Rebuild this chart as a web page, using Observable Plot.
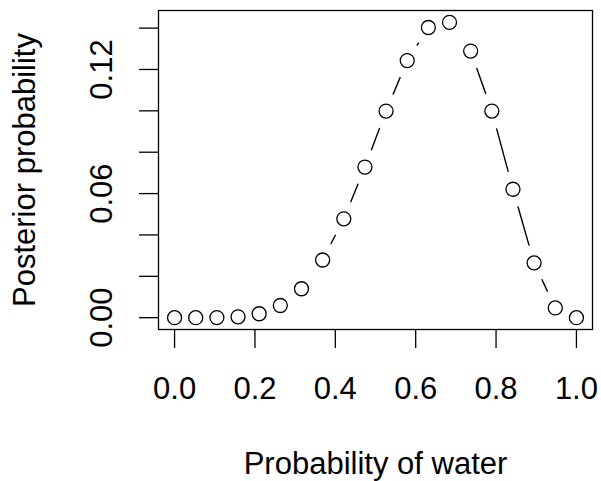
<!DOCTYPE html>
<html>
<head>
<meta charset="utf-8">
<script src="https://cdn.jsdelivr.net/npm/d3@7"></script>
<script src="https://cdn.jsdelivr.net/npm/@observablehq/plot@0.6"></script>
<style>
  html, body { margin: 0; padding: 0; background: #fff; }
  svg { display: block; }
</style>
</head>
<body>
<div id="chart"></div>
<script>
// Grid of 20 points for probability of water
const pGrid = [0, 0.0526, 0.1053, 0.1579, 0.2105, 0.2632, 0.3158, 0.3684, 0.4211, 0.4737,
               0.5263, 0.5789, 0.6316, 0.6842, 0.7368, 0.7895, 0.8421, 0.8947, 0.9474, 1];
// Posterior probability
const posterior = [0, 0.0000008, 0.000043, 0.00041, 0.0019, 0.0059, 0.0140, 0.0279, 0.0478, 0.0728,
                   0.0999, 0.1243, 0.1403, 0.1428, 0.1289, 0.0999, 0.0621, 0.0265, 0.0047, 0];
const xTicks = [0, 0.2, 0.4, 0.6, 0.8, 1.0];
const xTickLabels = ["0.0", "0.2", "0.4", "0.6", "0.8", "1.0"];
const yTicks = [0, 0.02, 0.04, 0.06, 0.08, 0.10, 0.12, 0.14];
const yLabelTicks = [0, 0.06, 0.12];
const yTickLabels = ["0.00", "0.06", "0.12"];
const xTitle = "Probability of water";
const yTitle = "Posterior probability";

const points = pGrid.map((p, i) => ({p, post: posterior[i]}));
const segs = pGrid.slice(1).map((_, i) => ({
  x1: pGrid[i], y1: posterior[i], x2: pGrid[i + 1], y2: posterior[i + 1]
}));
const xt = xTicks.map((v, i) => ({v, t: xTickLabels[i]}));
const yt = yLabelTicks.map((v, i) => ({v, t: yTickLabels[i]}));

const ymax = d3.max(posterior), ymin = 0;
const ypad = (ymax - ymin) * 0.04;
const font = "'Liberation Sans', Arial, Helvetica, sans-serif";
const fs = 31;

const chart = Plot.plot({
  width: 601,
  height: 481,
  marginLeft: 158,
  marginRight: 9,
  marginTop: 10,
  marginBottom: 152,
  style: {fontFamily: font, fontSize: fs + "px", background: "#fff", color: "#000"},
  x: {domain: [-0.04, 1.04], axis: null},
  y: {domain: [ymin - ypad, ymax + ypad], axis: null},
  marks: [
    Plot.frame({stroke: "#000", strokeWidth: 1.3}),
    Plot.axisX({ticks: xTicks, tickSize: 19, tickFormat: () => "", stroke: "#000", strokeWidth: 1.3}),
    Plot.axisY({ticks: yTicks, tickSize: 19, tickFormat: () => "", stroke: "#000", strokeWidth: 1.3}),
    Plot.text(xt, {x: "v", text: "t", frameAnchor: "bottom", dy: 69, lineAnchor: "bottom",
                   fontSize: fs, fill: "#000"}),
    Plot.text(yt, {y: "v", text: "t", frameAnchor: "left", dx: -47, rotate: -90, lineAnchor: "bottom",
                   textAnchor: "middle", fontSize: fs, fill: "#000"}),
    Plot.text([xTitle], {text: d => d, frameAnchor: "bottom", dy: 144, lineAnchor: "bottom",
                   fontSize: fs, fill: "#000"}),
    Plot.text([yTitle], {text: d => d, frameAnchor: "left", dx: -124, rotate: -90, lineAnchor: "bottom",
                   textAnchor: "middle", fontSize: fs, fill: "#000"}),
    Plot.arrow(segs, {x1: "x1", y1: "y1", x2: "x2", y2: "y2", headLength: 0, inset: 18.5,
                      stroke: "#000", strokeWidth: 1.4}),
    Plot.dot(points, {x: "p", y: "post", r: 7, stroke: "#000", strokeWidth: 1.3, fill: "none"})
  ]
});
document.getElementById("chart").appendChild(chart);
</script>
</body>
</html>
